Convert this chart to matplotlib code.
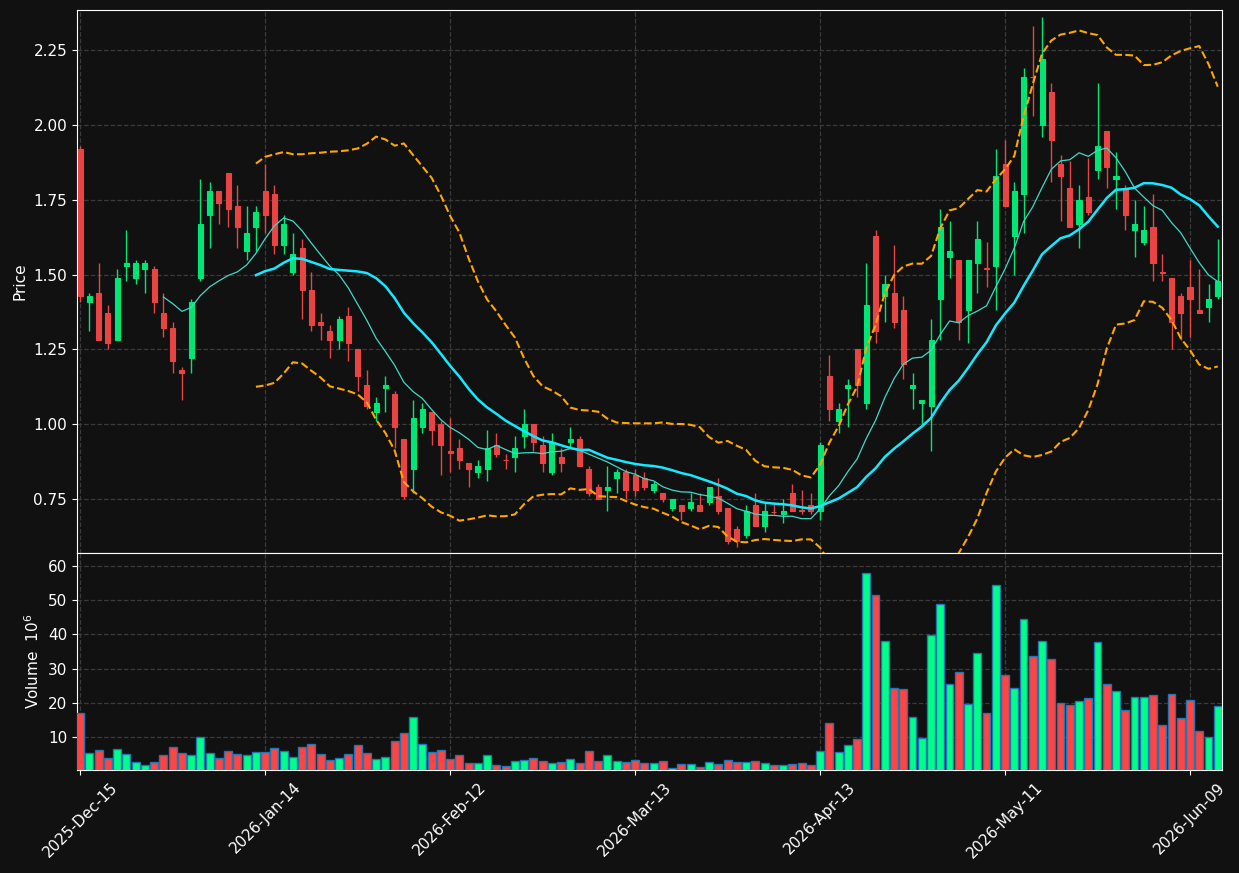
import numpy as np
import pandas as pd
import matplotlib
matplotlib.use('Agg')
import matplotlib.pyplot as plt

# daily OHLC (NYSE trading days)
holidays = ['2025-12-25', '2026-01-01', '2026-01-19', '2026-02-16',
            '2026-04-03', '2026-05-25']
dates = pd.bdate_range('2025-12-15', '2026-06-12', freq='C', holidays=holidays)

opens = [1.92, 1.41, 1.44, 1.37, 1.28, 1.53, 1.49, 1.52, 1.52, 1.37,
         1.32, 1.18, 1.22, 1.49, 1.70, 1.78, 1.84, 1.73, 1.58, 1.66,
         1.78, 1.77, 1.60, 1.51, 1.59, 1.45, 1.34, 1.31, 1.28, 1.36,
         1.25, 1.13, 1.04, 1.12, 1.10, 0.95, 0.85, 0.99, 1.04, 1.00,
         0.911, 0.92, 0.87, 0.84, 0.85, 0.93, 0.881, 0.89, 0.96, 1.00,
         0.93, 0.84, 0.89, 0.94, 0.95, 0.85, 0.79, 0.78, 0.82, 0.84,
         0.83, 0.82, 0.78, 0.77, 0.72, 0.73, 0.72, 0.73, 0.74, 0.76,
         0.72, 0.65, 0.63, 0.73, 0.66, 0.708, 0.70, 0.77, 0.715, 0.73,
         0.71, 1.16, 1.01, 1.12, 1.25, 1.07, 1.63, 1.43, 1.44, 1.38,
         1.12, 1.07, 1.06, 1.42, 1.56, 1.55, 1.38, 1.54, 1.521, 1.53,
         1.87, 1.63, 1.77, 2.161, 2.00, 2.11, 1.87, 1.79, 1.67, 1.76,
         1.85, 1.98, 1.82, 1.79, 1.65, 1.61, 1.66, 1.508, 1.49, 1.43,
         1.46, 1.38, 1.39, 1.43]
highs = [1.93, 1.44, 1.54, 1.40, 1.52, 1.65, 1.55, 1.55, 1.53, 1.44,
         1.34, 1.19, 1.42, 1.82, 1.81, 1.78, 1.84, 1.80, 1.73, 1.73,
         1.87, 1.80, 1.70, 1.64, 1.62, 1.51, 1.37, 1.33, 1.36, 1.39,
         1.25, 1.18, 1.09, 1.16, 1.11, 0.95, 1.08, 1.07, 1.04, 1.01,
         1.02, 0.95, 0.87, 0.88, 0.98, 0.97, 0.90, 0.96, 1.05, 1.00,
         0.96, 0.97, 0.92, 0.99, 0.96, 0.86, 0.80, 0.86, 0.85, 0.85,
         0.85, 0.84, 0.81, 0.77, 0.75, 0.73, 0.77, 0.77, 0.79, 0.82,
         0.72, 0.66, 0.73, 0.77, 0.74, 0.74, 0.75, 0.80, 0.78, 0.77,
         0.94, 1.23, 1.07, 1.15, 1.25, 1.54, 1.65, 1.50, 1.60, 1.43,
         1.17, 1.08, 1.35, 1.72, 1.68, 1.55, 1.55, 1.68, 1.61, 1.92,
         1.95, 1.81, 2.19, 2.33, 2.36, 2.14, 1.90, 1.88, 1.80, 1.89,
         2.14, 1.98, 1.91, 1.80, 1.75, 1.73, 1.77, 1.57, 1.49, 1.44,
         1.55, 1.52, 1.47, 1.62]
lows = [1.41, 1.31, 1.28, 1.25, 1.28, 1.48, 1.47, 1.44, 1.37, 1.29,
        1.17, 1.08, 1.17, 1.48, 1.59, 1.67, 1.66, 1.59, 1.55, 1.58,
        1.64, 1.57, 1.57, 1.50, 1.35, 1.31, 1.28, 1.22, 1.25, 1.21,
        1.11, 1.05, 1.01, 1.04, 0.92, 0.75, 0.77, 0.97, 0.93, 0.83,
        0.84, 0.85, 0.79, 0.82, 0.81, 0.89, 0.85, 0.84, 0.92, 0.91,
        0.84, 0.83, 0.84, 0.92, 0.86, 0.76, 0.75, 0.71, 0.77, 0.75,
        0.76, 0.78, 0.77, 0.74, 0.71, 0.68, 0.71, 0.71, 0.73, 0.70,
        0.60, 0.59, 0.62, 0.66, 0.64, 0.70, 0.67, 0.71, 0.70, 0.70,
        0.68, 1.01, 0.97, 0.99, 1.09, 1.05, 1.27, 1.34, 1.32, 1.15,
        1.05, 1.00, 0.91, 1.28, 1.49, 1.28, 1.27, 1.44, 1.46, 1.38,
        1.73, 1.50, 1.64, 2.03, 1.96, 1.81, 1.68, 1.66, 1.59, 1.70,
        1.82, 1.79, 1.72, 1.65, 1.56, 1.60, 1.48, 1.48, 1.25, 1.28,
        1.29, 1.37, 1.34, 1.42]
closes = [1.43, 1.43, 1.28, 1.27, 1.49, 1.54, 1.54, 1.54, 1.41, 1.32,
          1.21, 1.17, 1.41, 1.67, 1.78, 1.74, 1.72, 1.66, 1.64, 1.71,
          1.70, 1.60, 1.67, 1.57, 1.45, 1.33, 1.33, 1.28, 1.35, 1.27,
          1.16, 1.06, 1.07, 1.13, 0.99, 0.76, 1.02, 1.05, 0.98, 0.93,
          0.905, 0.88, 0.85, 0.86, 0.92, 0.90, 0.879, 0.92, 1.00, 0.94,
          0.87, 0.94, 0.87, 0.95, 0.86, 0.77, 0.75, 0.79, 0.84, 0.78,
          0.78, 0.79, 0.80, 0.75, 0.75, 0.71, 0.74, 0.71, 0.79, 0.71,
          0.61, 0.61, 0.71, 0.66, 0.71, 0.706, 0.71, 0.71, 0.71, 0.71,
          0.93, 1.05, 1.05, 1.13, 1.13, 1.40, 1.31, 1.47, 1.34, 1.20,
          1.13, 1.08, 1.28, 1.66, 1.58, 1.34, 1.55, 1.62, 1.518, 1.83,
          1.73, 1.78, 2.16, 2.159, 2.22, 1.95, 1.83, 1.66, 1.75, 1.71,
          1.93, 1.86, 1.83, 1.70, 1.67, 1.65, 1.54, 1.506, 1.34, 1.37,
          1.42, 1.37, 1.42, 1.48]
# volume in millions
volumes = [17.0, 5.2, 6.1, 3.8, 6.4, 4.9, 2.5, 1.7, 2.5, 4.6,
           7.0, 5.2, 4.6, 9.9, 5.2, 3.8, 5.8, 4.9, 4.6, 5.5,
           5.5, 6.7, 5.8, 4.0, 7.0, 7.8, 4.9, 3.1, 3.7, 4.9,
           7.5, 5.2, 3.4, 4.0, 8.7, 11.1, 15.8, 7.8, 5.5, 6.1,
           3.4, 4.6, 2.3, 2.3, 4.7, 1.7, 1.4, 2.8, 3.1, 3.7,
           2.8, 2.3, 2.5, 3.4, 2.3, 5.8, 2.8, 4.7, 2.8, 2.5,
           3.1, 2.3, 2.3, 2.8, 0.8, 2.0, 2.0, 1.1, 2.5, 2.0,
           3.1, 2.5, 2.5, 2.8, 2.3, 1.7, 1.7, 2.0, 2.3, 1.7,
           5.8, 14.0, 5.5, 7.5, 9.4, 58.1, 51.5, 38.1, 24.3, 24.0,
           15.8, 9.7, 39.9, 49.0, 25.5, 29.0, 19.6, 34.6, 17.0, 54.6,
           28.1, 24.3, 44.6, 33.7, 38.1, 32.8, 19.9, 19.3, 20.5, 21.4,
           37.8, 25.5, 23.4, 17.8, 21.7, 21.7, 22.3, 13.4, 22.5, 15.5,
           20.8, 11.7, 9.9, 19.0]

df = pd.DataFrame({'Open': opens, 'High': highs, 'Low': lows,
                   'Close': closes, 'Volume': volumes}, index=dates)

ma10 = df['Close'].rolling(10).mean()
ma20 = df['Close'].rolling(20).mean()
std20 = df['Close'].rolling(20).std()
bb_up = ma20 + 2 * std20
bb_lo = ma20 - 2 * std20

bg = '#111111'
up_c, dn_c = '#00e676', '#e84444'
vup_c, vdn_c = '#00ff88', '#ff4444'

x = np.arange(len(df))
up = df['Close'].values >= df['Open'].values

fig = plt.figure(figsize=(12.39, 8.73), dpi=100, facecolor=bg)
ax = fig.add_axes([0.0621, 0.3666, 0.9242, 0.6220])
axv = fig.add_axes([0.0621, 0.1180, 0.9242, 0.2486], sharex=ax)

for a in (ax, axv):
    a.set_facecolor(bg)
    for s in a.spines.values():
        s.set_color('white')
    a.tick_params(colors='white', labelsize=11)
    a.grid(True, color='#3a3a3a', linestyle='--', linewidth=0.9)
    a.set_axisbelow(True)

# candles
ccol = np.where(up, up_c, dn_c)
ax.vlines(x, df['Low'], df['High'], colors=ccol, linewidth=1.0, zorder=2)
body_lo = np.minimum(df['Open'], df['Close'])
body_h = np.abs(df['Close'] - df['Open'])
ax.bar(x, body_h, bottom=body_lo, width=0.55, color=ccol, edgecolor=ccol,
       linewidth=0.8, zorder=3)

# moving averages and bollinger bands
ax.plot(x, ma10, color='#40d8c8', linewidth=0.9, zorder=4)
ax.plot(x, ma20, color='#14eaff', linewidth=1.8, zorder=4)
ax.plot(x, bb_up, color='#ffa500', linestyle='--', linewidth=1.5, zorder=4)
ax.plot(x, bb_lo, color='#ffa500', linestyle='--', linewidth=1.5, zorder=4)

ax.set_ylim(0.570, 2.384)
ax.set_yticks([0.75, 1.00, 1.25, 1.50, 1.75, 2.00, 2.25])
ax.set_ylabel('Price', color='white', fontsize=11)
ax.tick_params(axis='x', labelbottom=False, length=0)

# volume
vcol = np.where(up, vup_c, vdn_c)
axv.bar(x, df['Volume'], width=0.85, color=vcol, edgecolor='#1f77b4',
        linewidth=1.0, zorder=3)
axv.set_ylim(0.3 * min(volumes), 1.1 * max(volumes))
axv.set_yticks([10, 20, 30, 40, 50, 60])
axv.set_ylabel('Volume  $10^6$', color='white', fontsize=11)

ticks = np.arange(0, len(df), 20)
axv.set_xticks(ticks)
axv.set_xticklabels([d.strftime('%Y-%b-%d') for d in dates[ticks]],
                    rotation=45, ha='center')
axv.set_xlim(-0.35, len(df) - 0.54)

fig.savefig('out.png', dpi=100, facecolor=bg)
